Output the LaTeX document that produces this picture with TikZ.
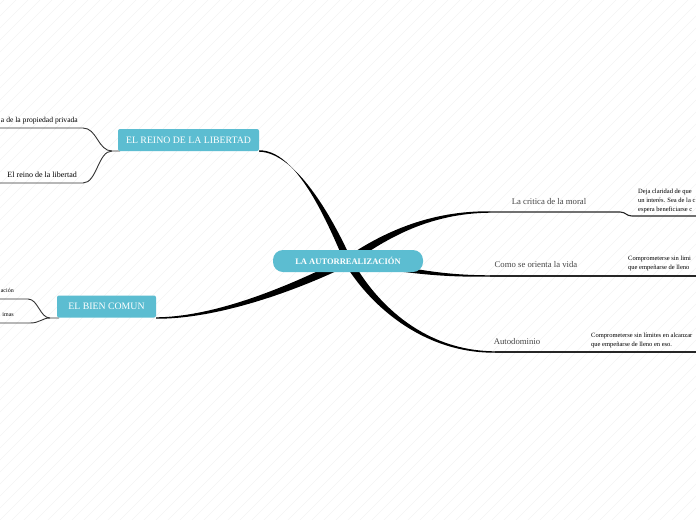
\documentclass[tikz,border=0pt]{standalone}
\usepackage{fontspec}
\setmainfont{Liberation Serif}
\usetikzlibrary{calc}
\definecolor{nodeblue}{RGB}{92,189,209}
\definecolor{labelgray}{RGB}{70,70,70}
\begin{document}
\begin{tikzpicture}[x=1pt,y=-1pt,
  topic/.style={fill=nodeblue, text=white, rounded corners=2pt, inner sep=0pt, minimum height=22pt, font=\fontsize{9.8}{11}\selectfont},
  rootnode/.style={fill=nodeblue, text=white, rounded corners=10pt, inner sep=0pt, minimum width=150pt, minimum height=22pt, font=\fontsize{8.5}{9}\selectfont\bfseries},
  branchlabel/.style={text=labelgray, inner sep=0pt, font=\fontsize{8.7}{10}\selectfont},
  leftlabel/.style={text=black, inner sep=0pt, font=\fontsize{8}{9}\selectfont},
  note/.style={text=black, align=left, inner sep=0pt, anchor=north west, font=\fontsize{6.5}{9}\selectfont},
  thinline/.style={draw=black!85, line width=1.1pt},
  subline/.style={draw=black!80, line width=0.9pt},
  taper/.style={fill=black},
  bgline/.style={draw=black!8, line width=0.3pt}]
\useasboundingbox (0,0) rectangle (696,520);
\fill[white] (0,0) rectangle (696,520);
\begin{scope}
  \clip (0,0) rectangle (696,520);
  \foreach \i in {-528,-516,...,696} \draw[bgline] (\i,520) -- (\i+520,0);
\end{scope}

% coordinates
\coordinate (c) at (348,261);
\coordinate (rE) at (259,151);
\coordinate (bE) at (156,318);
\coordinate (mE) at (490,212);
\coordinate (vE) at (490,276);
\coordinate (aE) at (495,352);
\coordinate (cA1) at (328,215);  \coordinate (cA2) at (295,151);
\coordinate (cB1) at (300,285);  \coordinate (cB2) at (220,318);
\coordinate (cC1) at (385,235);  \coordinate (cC2) at (430,212);
\coordinate (cD1) at (420,272);  \coordinate (cD2) at (440,276);
\coordinate (cE1) at (370,300);  \coordinate (cE2) at (420,352);

% tapered main connectors
\fill[taper] ($(c)+(4,0)$) .. controls ($(cA1)+(3.5,0)$) and ($(cA2)+(0,1.3)$) .. ($(rE)+(0,0.7)$)
  -- ($(rE)+(0,-0.7)$) .. controls ($(cA2)+(0,-1.3)$) and ($(cA1)+(-3.5,0)$) .. ($(c)+(-4,0)$) -- cycle;
\fill[taper] ($(c)+(1.8,3.6)$) .. controls ($(cB1)+(1.8,3.5)$) and ($(cB2)+(0,1.2)$) .. ($(bE)+(0,0.7)$)
  -- ($(bE)+(0,-0.7)$) .. controls ($(cB2)+(0,-1.2)$) and ($(cB1)+(-1.8,-3.5)$) .. ($(c)+(-1.8,-3.6)$) -- cycle;
\fill[taper] ($(c)+(2.3,3.3)$) .. controls ($(cC1)+(1.9,2.8)$) and ($(cC2)+(0,1.3)$) .. ($(mE)+(0,0.7)$)
  -- ($(mE)+(0,-0.7)$) .. controls ($(cC2)+(0,-1.3)$) and ($(cC1)+(-1.9,-2.8)$) .. ($(c)+(-2.3,-3.3)$) -- cycle;
\fill[taper] ($(c)+(0,3.5)$) .. controls ($(cD1)+(0,2.5)$) and ($(cD2)+(0,1)$) .. ($(vE)+(0,0.7)$)
  -- ($(vE)+(0,-0.7)$) .. controls ($(cD2)+(0,-1)$) and ($(cD1)+(0,-2.5)$) .. ($(c)+(0,-3.5)$) -- cycle;
\fill[taper] ($(c)+(3.5,-2)$) .. controls ($(cE1)+(2.8,-1.6)$) and ($(cE2)+(0,-1.2)$) .. ($(aE)+(0,-0.7)$)
  -- ($(aE)+(0,0.7)$) .. controls ($(cE2)+(0,1.2)$) and ($(cE1)+(-2.8,1.6)$) .. ($(c)+(-3.5,2)$) -- cycle;

% right side underlines
\coordinate (mR) at (696,216);
\coordinate (vR) at (696,276);
\coordinate (aR) at (696,352);
\draw[thinline] (mE) -- (620,212) .. controls (626,212) and (626,216) .. (632,216) -- (mR);
\draw[thinline] (vE) -- (vR);
\draw[thinline] (aE) -- (aR);

% left branches of REINO
\coordinate (r1) at (0,128);
\coordinate (r2) at (0,183);
\draw[subline] (120,151) -- (112,151) .. controls (98,151) and (97,128) .. (83,128) -- (r1);
\draw[subline] (112,151) .. controls (98,151) and (97,183) .. (83,183) -- (r2);

% left branches of BIEN
\coordinate (b1) at (0,299);
\coordinate (b2) at (0,323);
\draw[subline] (59,318) -- (50,318) .. controls (40,318) and (38,299) .. (28,299) -- (b1);
\draw[subline] (50,318) .. controls (42,318) and (40,323) .. (30,323) -- (b2);

% nodes
\node[rootnode] (root) at (348,261) {LA AUTORREALIZACIÓN};
\node[topic, minimum width=141pt] (reino) at (188.5,140) {EL REINO DE LA LIBERTAD};
\node[topic, minimum width=99pt] (bien) at (106.5,306.5) {EL BIEN COMUN};

\node[branchlabel] (moral) at (549,202) {La critica de la moral};
\node[branchlabel] (vida) at (536,265) {Como se orienta la vida};
\node[branchlabel] (auto) at (517,342) {Autodominio};

\node[note] (n1) at (638,188.5) {Deja claridad de que\\un interés. Sea de la c\\espera beneficiarse c};
\node[note] (n2) at (628,255.5) {Comprometerse sin limi\\que empeñarse de lleno};
\node[note] (n3) at (591,332.5) {Comprometerse sin límites en alcanzar\\que empeñarse de lleno en eso.};

\node[leftlabel, anchor=east, font=\fontsize{7.6}{9}\selectfont] (prop) at (78,121) {a de la propiedad privada};
\node[leftlabel, anchor=east] (lib) at (77,175) {El reino de la libertad};
\node[leftlabel, anchor=east, font=\fontsize{6}{7}\selectfont] (acion) at (14,290) {ación};
\node[leftlabel, anchor=east, font=\fontsize{6}{7}\selectfont] (imas) at (14,315) {imas};
\end{tikzpicture}
\end{document}
